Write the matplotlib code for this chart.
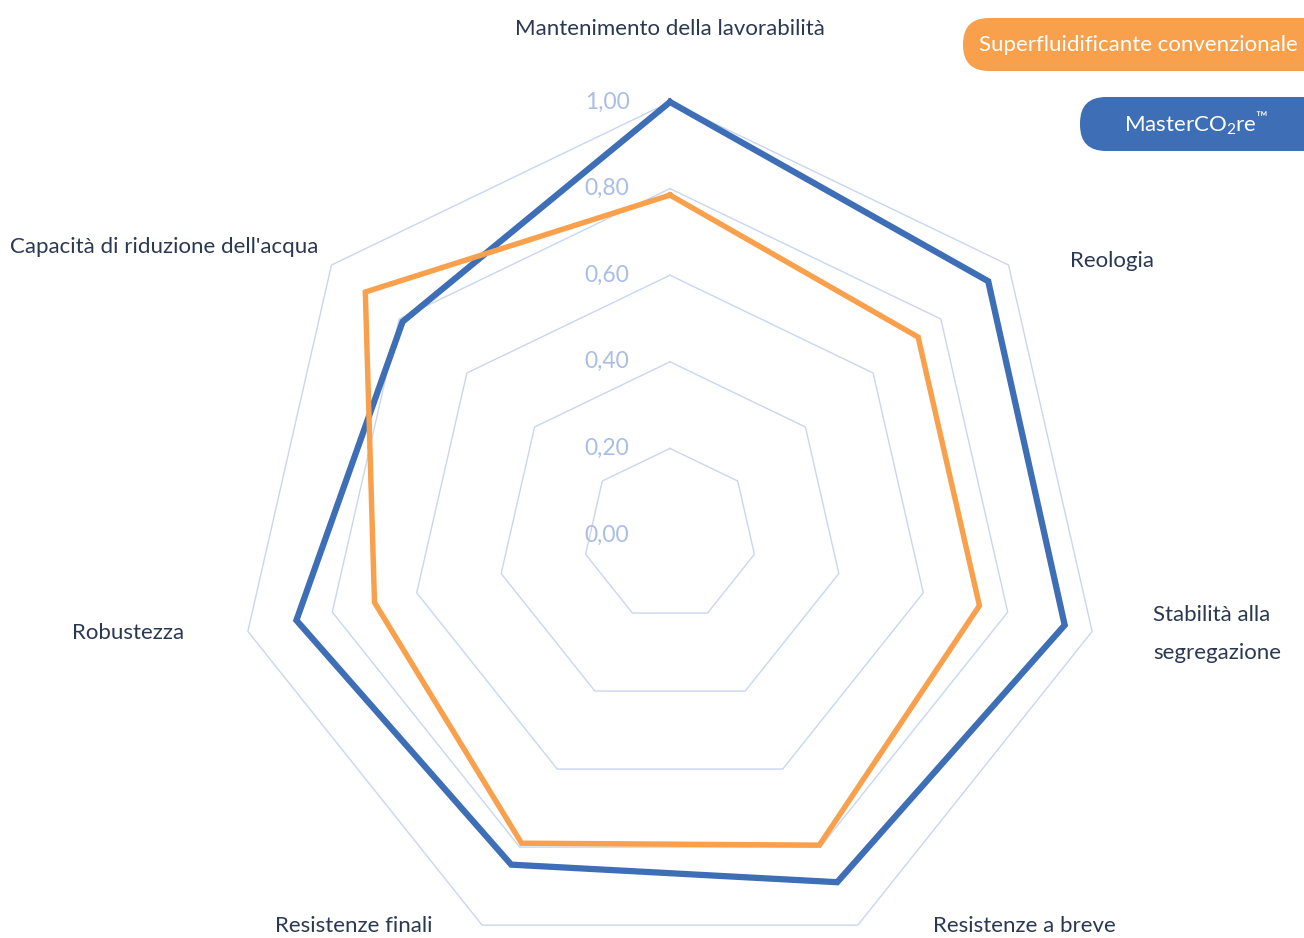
import numpy as np
import matplotlib
matplotlib.use("Agg")
import matplotlib.pyplot as plt
from matplotlib.patches import FancyBboxPatch

plt.rcParams['font.family'] = ['Lato', 'DejaVu Sans']
plt.rcParams['mathtext.fontset'] = 'custom'
plt.rcParams['mathtext.rm'] = 'Lato'
plt.rcParams['mathtext.it'] = 'Lato'

categories = ["Mantenimento della lavorabilità", "Reologia", "Stabilità alla\nsegregazione",
              "Resistenze a breve", "Resistenze finali", "Robustezza",
              "Capacità di riduzione dell'acqua"]
masterco2re = [1.00, 0.94, 0.935, 0.89, 0.845, 0.885, 0.79]
convenzionale = [0.785, 0.733, 0.733, 0.795, 0.79, 0.70, 0.90]
grid_levels = [0.2, 0.4, 0.6, 0.8, 1.0]
tick_labels = ["0,00", "0,20", "0,40", "0,60", "0,80", "1,00"]
tick_values = [0.0, 0.2, 0.4, 0.6, 0.8, 1.0]

BLUE = "#3d6eb6"
ORANGE = "#f8a04b"
GRID = "#c9d6ef"
TICK = "#a9bde6"
TEXT = "#2a3852"

W, H = 1304, 938
fig = plt.figure(figsize=(W / 100, H / 100), dpi=100)
cx, cy, R = 670, 535, 433
ax = fig.add_axes([(cx - R) / W, (H - cy - R) / H, 2 * R / W, 2 * R / H], projection='polar')
ax.set_theta_offset(np.pi / 2)
ax.set_theta_direction(-1)
ax.set_ylim(0, 1)
ax.set_axis_off()

n = len(categories)
theta = np.arange(n) * 2 * np.pi / n
theta_c = np.append(theta, theta[0])

for lv in grid_levels:
    ax.plot(theta_c, [lv] * (n + 1), color=GRID, lw=1.0, zorder=1, clip_on=False)

ax.plot(theta_c, masterco2re + [masterco2re[0]], color=BLUE, lw=4.5, zorder=3,
        solid_joinstyle='miter', clip_on=False)
ax.plot(theta_c, convenzionale + [convenzionale[0]], color=ORANGE, lw=3.9, zorder=4,
        solid_joinstyle='miter', clip_on=False)

fs = 16
for v, lab in zip(tick_values, tick_labels):
    ax.annotate(lab, xy=(0, v), xytext=(-63, 0), textcoords='offset pixels',
                ha='center', va='center', fontsize=16.5, color=TICK,
                zorder=2, annotation_clip=False)

def ftext(x, y, s, ha='left', va='center', **kw):
    fig.text(x / W, 1 - y / H, s, ha=ha, va=va, fontsize=fs, color=TEXT, **kw)

ftext(670, 29, categories[0], ha='center')
ftext(1070, 261, categories[1])
ftext(1153, 634, categories[2], linespacing=2.1)
ftext(933, 926, categories[3])
ftext(275, 926, categories[4])
ftext(72, 633, categories[5])
ftext(10, 247, categories[6])

# legend boxes
def box(x0, y0, x1, y1, color):
    p = FancyBboxPatch((x0 / W, 1 - y1 / H), (x1 - x0) / W, (y1 - y0) / H,
                       boxstyle="round,pad=0,rounding_size=0.02",
                       transform=fig.transFigure, facecolor=color, edgecolor='none',
                       mutation_aspect=W / H)
    fig.patches.append(p)

box(963, 18, 1330, 71, ORANGE)
box(1080, 97, 1330, 151, BLUE)
fig.text(1138 / W, 1 - 45 / H, "Superfluidificante convenzionale", ha='center', va='center',
         fontsize=fs, color='white')
fig.text(1196 / W, 1 - 124 / H, "MasterCO$_{2}$re$^{™}$", ha='center', va='center',
         fontsize=fs, color='white')

fig.savefig("out.png", dpi=100)
